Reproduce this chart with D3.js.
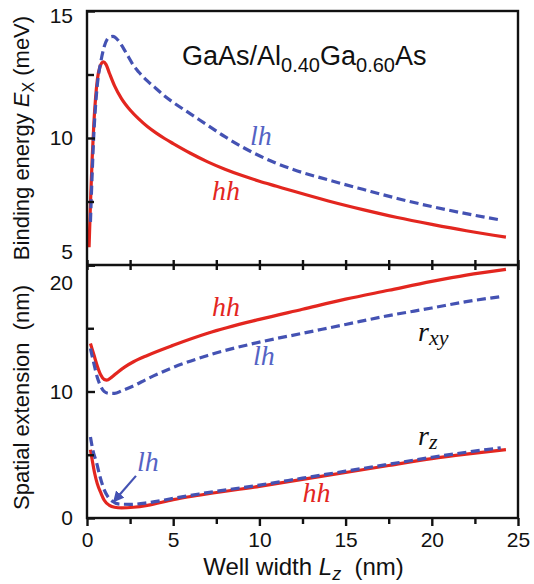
<!DOCTYPE html>
<html><head><meta charset="utf-8">
<script src="https://cdn.jsdelivr.net/npm/d3@7"></script>
<style>body{margin:0;background:#fff}</style>
</head><body>
<svg id="c" width="534" height="584"></svg>
<script>
// ---- data ----
const xTicks = [0, 5, 10, 15, 20, 25];
const xMinorTicks = [2.5, 7.5, 12.5, 17.5, 22.5];
const topTicks = [5, 10, 15];
const topMinorTicks = [7.5, 12.5];
const botTicks = [0, 10, 20];
const botMinorTicks = [5, 15];

// Binding energy (meV) vs Lz (nm)
const eHH = [[0.12,5.7],[0.2,7.4],[0.3,9.2],[0.4,10.6],[0.5,11.6],[0.6,12.3],[0.75,12.8],[0.95,13.0],[1.1,12.9],[1.3,12.55],[1.6,12.05],[2.0,11.55],[2.5,11.1],[3,10.75],[3.5,10.45],[4,10.2],[4.5,9.98],[5,9.78],[6,9.4],[7,9.06],[8,8.77],[9,8.52],[10,8.3],[11,8.1],[12,7.9],[14,7.52],[16,7.18],[18,6.87],[20,6.6],[22,6.35],[24.3,6.1]];
const eLH = [[0.2,6.7],[0.3,8.6],[0.4,10.2],[0.5,11.3],[0.6,12.1],[0.8,13.0],[1.0,13.6],[1.25,13.95],[1.5,14.0],[1.8,13.85],[2.1,13.55],[2.4,13.2],[2.7,12.85],[3.0,12.6],[3.5,12.25],[4,11.95],[4.5,11.65],[5,11.4],[6,10.95],[7,10.5],[8,10.05],[9,9.65],[10,9.3],[11,9.0],[12,8.75],[14,8.35],[16,7.98],[18,7.62],[20,7.3],[22,7.02],[24,6.77]];
// Spatial extension (nm)
const rxyHH = [[0.2,13.8],[0.4,12.9],[0.6,12.0],[0.8,11.3],[1.0,10.95],[1.15,10.9],[1.4,11.1],[1.8,11.55],[2.2,11.95],[2.7,12.35],[3.5,12.85],[5,13.65],[7,14.6],[10,15.7],[12.5,16.5],[15,17.3],[17.5,18.0],[20,18.7],[22,19.2],[24.3,19.65]];
const rxyLH = [[0.2,13.4],[0.4,12.2],[0.6,11.1],[0.8,10.4],[1.0,10.0],[1.3,9.85],[1.6,9.85],[2.0,10.05],[2.7,10.45],[3.5,11.0],[5,11.9],[7,12.85],[10,13.9],[12.5,14.6],[15,15.3],[17.5,16.0],[20,16.6],[22,17.1],[24,17.5]];
const rzHH = [[0.2,5.4],[0.3,4.6],[0.45,3.5],[0.6,2.7],[0.8,2.0],[1.0,1.4],[1.3,1.0],[1.6,0.85],[2.0,0.8],[2.7,0.85],[3.5,1.0],[5,1.45],[6.5,1.8],[10,2.5],[12.5,3.05],[15,3.6],[17.5,4.15],[20,4.7],[22,5.05],[24.3,5.4]];
const rzLH = [[0.2,6.4],[0.35,5.3],[0.55,4.4],[0.75,3.3],[0.95,2.4],[1.2,1.7],[1.45,1.35],[1.9,1.1],[2.5,1.08],[3.5,1.2],[5,1.55],[6.5,1.9],[10,2.6],[12.5,3.15],[15,3.7],[17.5,4.25],[20,4.8],[22,5.2],[24,5.55]];

// annotation labels (data coords)
const topLabels = [{t:"lh", x:9.45, y:9.72, c:"lh"}, {t:"hh", x:7.25, y:7.56, c:"hh"}];
const botLabels = [{t:"hh", x:7.25, y:16.0, c:"hh"}, {t:"lh", x:9.63, y:12.06, c:"lh"},
                   {t:"hh", x:12.5, y:1.27, c:"hh"}, {t:"lh", x:2.9, y:3.73, c:"lh"}];
const arrowLH = [[2.84, 3.33], [1.55, 1.3]];

// ---- drawing ----
const RED = "#e3261f", BLUE = "#4452b3", BLUE_T = "#5563c4";
const svg = d3.select("#c");
const L = 87, R = 518, T = 11, MID = 265, B = 518;
const x = d3.scaleLinear([0, 25], [L, R]);
const yT = d3.scaleLinear([5, 15], [MID, T]);
const yB = d3.scaleLinear([0, 20], [B, MID]);
const SANS = "Liberation Sans, Arial, sans-serif";
const SERIF = "'Liberation Serif', 'Times New Roman', serif";

const line = (ys) => d3.line().x(d => x(d[0])).y(d => ys(d[1])).curve(d3.curveMonotoneX);
function series(data, ys, color, dash) {
  svg.append("path").datum(data).attr("d", line(ys))
    .attr("fill", "none").attr("stroke", color).attr("stroke-width", 3.2)
    .attr("stroke-dasharray", dash ? "9,4.5" : null).attr("stroke-linejoin", "round");
}
series(eHH, yT, RED, false);
series(eLH, yT, BLUE, true);
series(rxyHH, yB, RED, false);
series(rxyLH, yB, BLUE, true);
series(rzHH, yB, RED, false);
series(rzLH, yB, BLUE, true);

function styleAxis(g) {
  g.select(".domain").remove();
  g.selectAll("line").attr("stroke", "#111").attr("stroke-width", 2.4);
  g.selectAll("text").attr("font-family", SANS).attr("font-size", 21).attr("fill", "#111");
}
svg.append("g").attr("transform", `translate(0,${B})`)
  .call(d3.axisBottom(x).tickValues(xTicks).tickSize(8).tickPadding(6).tickFormat(d3.format("d")))
  .call(styleAxis);
svg.append("g").attr("transform", `translate(0,${B})`)
  .call(d3.axisBottom(x).tickValues(xMinorTicks).tickSize(6).tickFormat(""))
  .call(styleAxis);
[d3.axisBottom, d3.axisTop].forEach(ax => {
  svg.append("g").attr("transform", `translate(0,${MID})`)
    .call(ax(x).tickValues(xTicks.concat(xMinorTicks)).tickSize(5).tickFormat(""))
    .call(styleAxis);
});
const gTop = svg.append("g").attr("transform", `translate(${L},0)`)
  .call(d3.axisLeft(yT).tickValues(topTicks).tickSize(-8).tickPadding(14).tickFormat(d3.format("d")))
  .call(styleAxis);
svg.append("g").attr("transform", `translate(${L},0)`)
  .call(d3.axisLeft(yT).tickValues(topMinorTicks).tickSize(-7).tickFormat(""))
  .call(styleAxis);
const gBot = svg.append("g").attr("transform", `translate(${L},0)`)
  .call(d3.axisLeft(yB).tickValues(botTicks).tickSize(-8).tickPadding(14).tickFormat(d3.format("d")))
  .call(styleAxis);
svg.append("g").attr("transform", `translate(${L},0)`)
  .call(d3.axisLeft(yB).tickValues(botMinorTicks).tickSize(-7).tickFormat(""))
  .call(styleAxis);
gTop.selectAll(".tick text").attr("dy", d => d === 15 ? "0.55em" : d === 5 ? "-0.32em" : "0.32em");
gBot.selectAll(".tick text").attr("dy", d => d === 20 ? "1.15em" : "0.32em");

svg.append("rect").attr("x", L).attr("y", T).attr("width", R - L).attr("height", B - T)
  .attr("fill", "none").attr("stroke", "#111").attr("stroke-width", 2.4);
svg.append("line").attr("x1", L).attr("x2", R).attr("y1", MID).attr("y2", MID)
  .attr("stroke", "#111").attr("stroke-width", 2.4);

const title = svg.append("text").attr("x", 182).attr("y", 65)
  .attr("font-family", SANS).attr("font-size", 27).attr("fill", "#111");
[["GaAs/Al",0],["0.40",1],["Ga",0],["0.60",1],["As",0]].forEach(([t, sub], i, arr) => {
  const prevSub = i > 0 && arr[i-1][1];
  title.append("tspan").text(t).attr("font-size", sub ? 20 : 27)
    .attr("dy", sub ? 7 : (prevSub ? -7 : 0));
});

function label(lbl, ys) {
  svg.append("text").attr("x", x(lbl.x)).attr("y", ys(lbl.y))
    .style("font-family", SERIF).style("font-style", "italic").attr("font-size", 28)
    .attr("fill", lbl.c === "hh" ? RED : BLUE_T).text(lbl.t);
}
topLabels.forEach(l => label(l, yT));
botLabels.forEach(l => label(l, yB));
function rlabel(sub, yv) {
  const t = svg.append("text").attr("x", x(19.2)).attr("y", yB(yv))
    .style("font-family", SERIF).style("font-style", "italic").attr("font-size", 28).attr("fill", "#111");
  t.append("tspan").text("r");
  t.append("tspan").text(sub).attr("font-size", 22).attr("dy", 4);
}
rlabel("xy", 13.97);
rlabel("z", 5.8);

svg.append("defs").append("marker").attr("id", "ah").attr("viewBox", "0 0 10 10")
  .attr("refX", 9).attr("refY", 5).attr("markerWidth", 5).attr("markerHeight", 5)
  .attr("markerUnits", "strokeWidth").attr("orient", "auto")
  .append("path").attr("d", "M0,0 L10,5 L0,10 Z").attr("fill", BLUE);
svg.append("line").attr("x1", x(arrowLH[0][0])).attr("y1", yB(arrowLH[0][1]))
  .attr("x2", x(arrowLH[1][0])).attr("y2", yB(arrowLH[1][1]))
  .attr("stroke", BLUE).attr("stroke-width", 2.2).attr("marker-end", "url(#ah)");

const yt1 = svg.append("text").attr("transform", `translate(29,${(T + MID) / 2}) rotate(-90)`)
  .attr("text-anchor", "middle").attr("font-family", SANS).attr("font-size", 22).attr("fill", "#111");
yt1.append("tspan").text("Binding energy ");
yt1.append("tspan").text("E").attr("font-style", "italic");
yt1.append("tspan").text("X").attr("font-size", 16).attr("dy", 5);
yt1.append("tspan").text(" (meV)").attr("dy", -5);

svg.append("text").attr("transform", `translate(29,${(MID + B) / 2 + 6}) rotate(-90)`)
  .attr("text-anchor", "middle").attr("font-family", SANS).attr("font-size", 22).attr("fill", "#111")
  .style("white-space", "pre")
  .text("Spatial extension  (nm)");

const xt = svg.append("text").attr("x", (L + R) / 2 + 1).attr("y", 575)
  .attr("text-anchor", "middle").attr("font-family", SANS).attr("font-size", 24).attr("fill", "#111")
  .style("white-space", "pre");
xt.append("tspan").text("Well width ");
xt.append("tspan").text("L").attr("font-style", "italic");
xt.append("tspan").text("z").attr("font-style", "italic").attr("font-size", 18).attr("dy", 5);
xt.append("tspan").text("  (nm)").attr("dy", -5);
</script>
</body></html>
